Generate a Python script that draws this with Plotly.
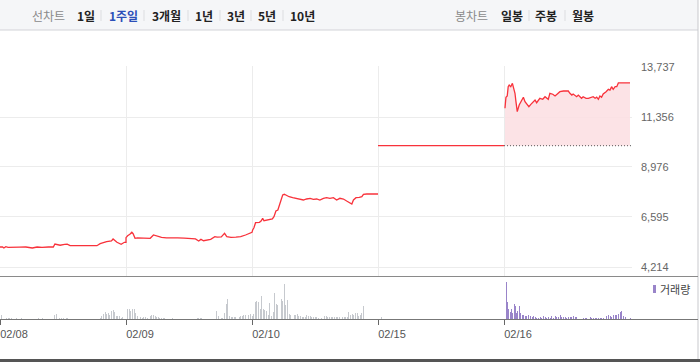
import plotly.graph_objects as go

# ---------------- data ----------------
dates = ["02/08", "02/09", "02/10", "02/15", "02/16"]
price_ticks = [4214, 6595, 8976, 11356, 13737]
prev_close_0216 = 9990
minutes_per_day = 390  # 09:00 - 15:30

t_0208 = [0, 8, 12, 18, 25, 40, 60, 80, 100, 115, 130, 150, 165, 170, 178, 186, 200, 208, 217, 240,
          260, 280, 300, 310, 330, 345, 350, 362, 375, 385, 390]
p_0208 = [5166, 5166, 5119, 5180, 5150, 5166, 5160, 5166, 5119, 5166, 5150, 5166, 5166, 5309, 5262,
          5250, 5290, 5300, 5228, 5235, 5222, 5235, 5228, 5323, 5419, 5452, 5547, 5390, 5295, 5390, 5390]

t_0209 = [0, 5, 12, 18, 22, 28, 35, 45, 60, 75, 85, 95, 110, 125, 140, 160, 180, 200, 215, 225,
          232, 240, 250, 262, 275, 282, 295, 305, 312, 325, 340, 355, 370, 380, 387, 390]
p_0209 = [5609, 5700, 5771, 5866, 5800, 5581, 5600, 5590, 5595, 5581, 5738, 5680, 5628, 5600, 5610,
          5600, 5590, 5581, 5550, 5452, 5530, 5466, 5500, 5533, 5657, 5640, 5650, 5819, 5657, 5628,
          5640, 5657, 5738, 5800, 5847, 5866]

t_0210 = [2, 6, 11, 16, 23, 28, 33, 37, 45, 58, 63, 68, 74, 80, 85, 90, 95, 100, 107, 115,
          126, 138, 149, 159, 169, 180, 190, 200, 210, 221, 231, 241, 252, 262, 272, 283, 293, 303,
          309, 314, 322, 332, 340, 345, 355, 390]
p_0210 = [5976, 6085, 6323, 6323, 6342, 6404, 6533, 6419, 6438, 6466, 6500, 6609, 6880, 6928, 7199,
          7404, 7642, 7676, 7609, 7561, 7514, 7485, 7452, 7404, 7452, 7485, 7437, 7452, 7404, 7485,
          7514, 7485, 7514, 7404, 7485, 7452, 7357, 7247, 7214, 7404, 7514, 7533, 7561, 7676, 7690, 7690]

t_0215 = [0, 390]
p_0215 = [9990, 9990]

t_0216 = [3, 6, 10, 13, 16, 21, 26, 29, 34, 37, 41, 47, 55, 60, 65, 70, 77, 83, 89, 96,
          101, 106, 111, 120, 127, 137, 142, 151, 158, 165, 173, 184, 199, 204, 210, 214, 220, 225,
          230, 235, 240, 245, 254, 261, 271, 276, 282, 287, 292, 297, 302, 307, 316, 323, 328, 333,
          338, 344, 349, 354, 390]
p_0216 = [11771, 12294, 12356, 12799, 12880, 12799, 12961, 12770, 12485, 12085, 11609, 11928, 12199,
          12294, 12085, 12000, 11847, 11960, 12037, 12166, 12037, 12166, 12247, 12199, 12323, 12199,
          12485, 12440, 12356, 12450, 12561, 12594, 12594, 12485, 12400, 12451, 12356, 12323, 12400,
          12323, 12247, 12323, 12247, 12247, 12280, 12323, 12247, 12300, 12199, 12356, 12300, 12451,
          12561, 12675, 12640, 12799, 12675, 12799, 12799, 12980, 12980]

# volume (thousand shares), 5-minute bars
vt_0208 = [5, 20, 25, 30, 35, 50, 65, 120, 130, 170, 175, 185, 190, 195, 205, 210, 310, 315, 320,
           325, 330, 335, 340, 345, 350, 355, 360, 365, 370, 375, 380]
v_0208 = [43, 12, 10, 12, 10, 8, 8, 8, 8, 45, 53, 15, 10, 12, 10, 10, 8, 27, 50, 73, 50, 60, 43, 77,
          90, 67, 33, 27, 27, 13, 17]

vt_0209 = [5, 10, 15, 20, 25, 30, 35, 45, 50, 55, 60, 65, 75, 80, 85, 90, 95, 100, 105, 110, 115,
           120, 145, 220, 225, 230, 235, 280, 285, 295, 300, 305, 310, 315, 320, 325, 330, 335, 340,
           350, 355, 360, 365, 370, 380, 385]
v_0209 = [103, 103, 77, 100, 100, 60, 27, 17, 13, 20, 17, 10, 33, 43, 40, 33, 20, 17, 13, 13, 10,
          13, 10, 8, 8, 8, 8, 83, 30, 10, 10, 60, 150, 200, 30, 20, 20, 20, 20, 20, 30, 30, 40, 40,
          40, 50]

vt_0210 = [0, 5, 10, 15, 20, 25, 30, 35, 40, 45, 50, 55, 60, 65, 70, 75, 80, 90, 95, 100, 105, 110,
           115, 120, 130, 135, 140, 145, 150, 155, 160, 165, 170, 175, 180, 185, 190, 195, 200, 205,
           215, 225, 230, 235, 240, 245, 250, 255, 260, 265, 270, 280, 285, 290, 295, 300, 305, 310,
           315, 320, 325, 330, 335, 340, 345]
v_0210 = [30, 50, 170, 180, 170, 100, 227, 100, 90, 80, 40, 160, 30, 70, 260, 150, 140, 203, 183,
          353, 140, 187, 50, 40, 40, 40, 50, 30, 30, 20, 20, 20, 40, 30, 30, 20, 20, 20, 20, 10,
          10, 30, 30, 20, 20, 20, 20, 20, 20, 20, 20, 20, 20, 20, 20, 70, 40, 50, 40, 60, 60, 30,
          40, 60, 127]

vt_0215 = [10]
v_0215 = [23]

vt_0216 = [7, 10, 14, 19, 23, 27, 31, 35, 39, 43, 48, 52, 56, 61, 66, 71, 76, 82, 87, 91, 96, 101,
           106, 112, 117, 122, 127, 132, 137, 143, 148, 153, 158, 163, 168, 174, 179, 184, 189, 194,
           199, 205, 210, 215, 220, 225, 246, 251, 256, 267, 272, 277, 282, 287, 292, 298, 303, 308,
           318, 323, 329, 334, 339, 344, 349, 354, 360, 365, 370, 375, 390]
v_0216 = [367, 170, 100, 70, 100, 60, 147, 127, 60, 80, 133, 60, 40, 40, 30, 30, 40, 30, 20, 30,
          20, 10, 10, 20, 10, 30, 20, 10, 20, 10, 30, 10, 30, 20, 20, 40, 20, 20, 20, 10, 20, 20,
          20, 30, 20, 20, 10, 10, 10, 20, 10, 10, 10, 10, 10, 10, 10, 10, 30, 40, 30, 20, 40, 40,
          40, 50, 70, 77, 30, 20, 10]

# ---------------- helpers ----------------
W, H = 700, 362
ML, MR, MT, MB = 0, 68, 30, 43
PW, PH = W - ML - MR, H - MT - MB   # 632 x 289
DAY_PX = 126.0
XMAX = PW / DAY_PX


def xd(day, mins):
    return [day + m / minutes_per_day for m in mins]


def px(x):
    return (x - ML) / PW


def py(y):
    return (H - MB - y) / PH


RED = "#f8323b"
GRID = "#ececec"

# price line: 02/08-02/10 connected, 02/15 separate
line_x = xd(0, t_0208) + xd(1, t_0209) + xd(2, t_0210) + [None] + xd(3, t_0215)
line_y = p_0208 + p_0209 + p_0210 + [None] + p_0215

x16 = xd(4, t_0216)

fig = go.Figure()
fig.add_trace(go.Scatter(x=line_x, y=line_y, mode="lines", line=dict(color=RED, width=1.3),
                         connectgaps=False, hoverinfo="skip", showlegend=False, xaxis="x", yaxis="y"))
fig.add_trace(go.Scatter(x=[x16[0], x16[-1]], y=[prev_close_0216] * 2, mode="lines",
                         line=dict(width=0, color="rgba(0,0,0,0)"), showlegend=False,
                         hoverinfo="skip", xaxis="x", yaxis="y"))
fig.add_trace(go.Scatter(x=x16, y=p_0216, mode="lines", line=dict(color=RED, width=1.3),
                         fill="tonexty", fillcolor="rgba(252,224,227,0.9)", showlegend=False,
                         hoverinfo="skip", xaxis="x", yaxis="y"))
fig.add_trace(go.Scatter(x=[4, XMAX], y=[prev_close_0216] * 2, mode="lines",
                         line=dict(color="#555555", width=1, dash="1px,2px"), showlegend=False,
                         hoverinfo="skip", xaxis="x", yaxis="y"))

bw = 1.0 / DAY_PX
gx = xd(0, vt_0208) + xd(1, vt_0209) + xd(2, vt_0210) + xd(3, vt_0215)
gy = v_0208 + v_0209 + v_0210 + v_0215
fig.add_trace(go.Bar(x=gx, y=gy, width=bw, marker=dict(color="#c6c9ce", line=dict(width=0)),
                     showlegend=False, hoverinfo="skip", xaxis="x2", yaxis="y2"))
fig.add_trace(go.Bar(x=xd(4, vt_0216), y=v_0216, width=bw,
                     marker=dict(color="#9984c9", line=dict(width=0)),
                     showlegend=False, hoverinfo="skip", xaxis="x2", yaxis="y2"))

# price axis range mapped so that 4214 sits at y=267 and 13737 at y=67
ppp = (price_ticks[-1] - price_ticks[0]) / 200.0
y_top_px, y_bot_px = 66, 276
fig.update_layout(
    width=W, height=H, margin=dict(l=ML, r=MR, t=MT, b=MB, pad=0, autoexpand=False),
    paper_bgcolor="white", plot_bgcolor="white", bargap=0,
    font=dict(family="Liberation Sans, Arial, sans-serif", size=11, color="#666"),
    xaxis=dict(domain=[0, 1], range=[0, XMAX], anchor="y", tickvals=[1, 2, 3, 4],
               showticklabels=False, showgrid=True, gridcolor=GRID, gridwidth=1,
               zeroline=False, showline=False, ticks="", automargin=False),
    yaxis=dict(domain=[py(y_bot_px), py(y_top_px)],
               range=[price_ticks[0] - (y_bot_px - 267) * ppp, price_ticks[-1] + (67 - y_top_px) * ppp],
               side="right", tickvals=price_ticks, ticktext=[f"{v:,}" for v in price_ticks],
               showgrid=True, gridcolor=GRID, gridwidth=1, zeroline=False, showline=False,
               ticks="", ticklabelstandoff=8, tickfont=dict(size=11, color="#666"), automargin=False),
    xaxis2=dict(domain=[0, 1], range=[0, XMAX], anchor="y2", tickvals=[0, 1, 2, 3, 4],
                ticktext=dates, ticks="outside", ticklen=5, tickcolor="#666", tickwidth=1,
                showgrid=False, zeroline=False, showline=False, ticklabelshift=14,
                tickfont=dict(size=11, color="#555"), automargin=False),
    yaxis2=dict(domain=[0, py(277)], range=[0, 420], showticklabels=False, showgrid=False,
                zeroline=False, showline=False, ticks="", automargin=False),
)

shapes = []
# top bar
shapes.append(dict(type="rect", xref="paper", yref="paper", x0=px(0), x1=px(698), y0=py(0), y1=py(30),
                   fillcolor="#f5f6f8", line=dict(width=0), layer="below"))
shapes.append(dict(type="line", xref="paper", yref="paper", x0=px(0), x1=px(698), y0=py(30), y1=py(30),
                   line=dict(color="#d2d3d8", width=1)))
# separators in top bar
for sx in [101, 144, 188, 220, 251, 283, 529, 565]:
    shapes.append(dict(type="line", xref="paper", yref="paper", x0=px(sx), x1=px(sx), y0=py(10), y1=py(21),
                       line=dict(color="#dcdde0", width=1)))
# right border
shapes.append(dict(type="line", xref="paper", yref="paper", x0=px(698), x1=px(698), y0=py(0), y1=py(359),
                   line=dict(color="#c8c9cd", width=1)))
# panel separator and volume baseline
shapes.append(dict(type="line", xref="paper", yref="paper", x0=px(0), x1=px(698), y0=py(276.5), y1=py(276.5),
                   line=dict(color="#8a8a8a", width=1)))
shapes.append(dict(type="line", xref="paper", yref="paper", x0=px(0), x1=px(698), y0=py(319.5), y1=py(319.5),
                   line=dict(color="#777", width=1)))
# bottom border
shapes.append(dict(type="rect", xref="paper", yref="paper", x0=px(0), x1=px(700), y0=py(359), y1=py(362),
                   fillcolor="#555", line=dict(width=0)))
# legend swatch
shapes.append(dict(type="rect", xref="paper", yref="paper", x0=px(653), x1=px(656), y0=py(285), y1=py(293),
                   fillcolor="#9984c9", line=dict(width=0)))
fig.update_layout(shapes=shapes)

KFONT = "Noto Sans CJK KR"
ann = []
top_items = [("선차트", 48, "#8a8a8a", False), ("1일", 85.5, "#222", True), ("1주일", 123.5, "#2c4fb8", True),
             ("3개월", 166, "#222", True), ("1년", 203.5, "#222", True), ("3년", 235.5, "#222", True),
             ("5년", 267, "#222", True), ("10년", 302, "#222", True), ("봉차트", 471.5, "#8a8a8a", False),
             ("일봉", 512, "#222", True), ("주봉", 546, "#222", True), ("월봉", 583, "#222", True)]
for txt, cx, col, bold in top_items:
    ann.append(dict(text=f"<b>{txt}</b>" if bold else txt, xref="paper", yref="paper", x=px(cx), y=py(15),
                    xanchor="center", yanchor="middle", showarrow=False,
                    font=dict(family=KFONT, size=12, color=col)))
ann.append(dict(text="거래량", xref="paper", yref="paper", x=px(658), y=py(289), xanchor="left",
                yanchor="middle", showarrow=False, font=dict(family=KFONT, size=11, color="#444")))
fig.update_layout(annotations=ann)

fig.write_html("out.html", config={"displayModeBar": False, "staticPlot": True},
               post_script="document.body.style.margin='0';document.body.style.overflow='hidden';")
